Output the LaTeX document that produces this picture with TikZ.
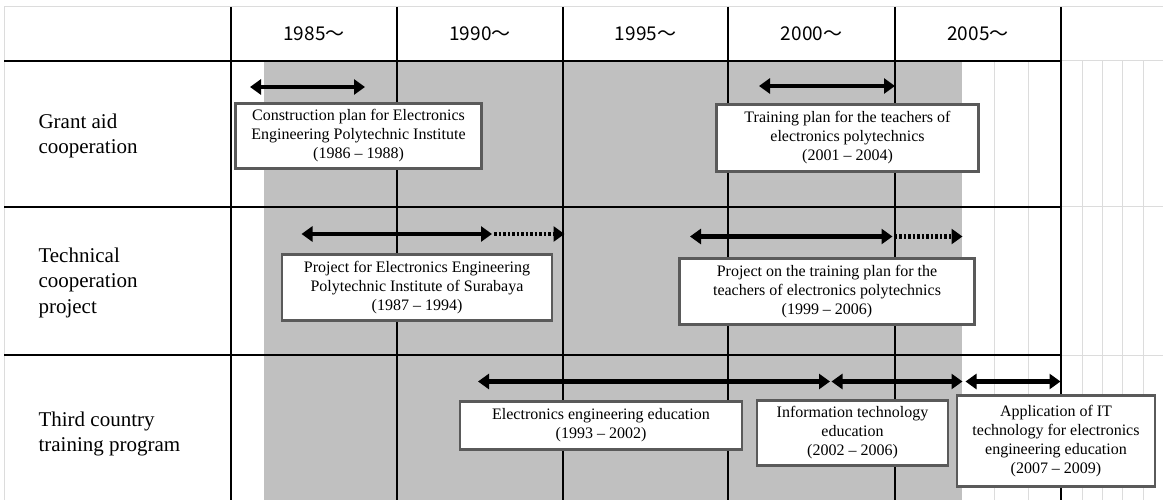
\documentclass[tikz,border=0pt]{standalone}
\usepackage{fontspec}
\setmainfont{Liberation Serif}
\newfontfamily\hdrfont{Noto Sans CJK JP}
\usetikzlibrary{arrows.meta}
\definecolor{periodgray}{HTML}{C0C0C0}
\definecolor{faint}{HTML}{DCDCDC}
\definecolor{boxline}{HTML}{5A5A5A}
\begin{document}
\begin{tikzpicture}[x=1pt,y=-1pt,
  grid/.style={line width=1.3pt,black},
  faintline/.style={line width=1pt,faint},
  span/.style={line width=4.5pt,{Triangle[width=15pt,length=11pt]}-{Triangle[width=15pt,length=11pt]}},
  ext/.style={line width=4.5pt,dash pattern=on 2.5pt off 2pt,-{Triangle[width=15pt,length=11pt]}},
  box/.style={draw=boxline,line width=2.8pt,fill=white,align=center,font=\fontsize{16}{19}\selectfont,inner sep=2pt},
  rowlabel/.style={anchor=west,align=left,font=\fontsize{21}{25.5}\selectfont},
  yearlabel/.style={font=\hdrfont\fontsize{19}{22}\selectfont}]
\useasboundingbox (0,0) rectangle (1163,500);
\fill[white] (0,0) rectangle (1163,500);
% shaded period
\fill[periodgray] (264,61) rectangle (962,500);
% faint grid
\draw[faintline] (4,7) -- (1163,7);
\draw[faintline] (4,7) -- (4,500);
\foreach \x in {994,1028,1082,1102,1122,1143}
  \draw[faintline] (\x,61) -- (\x,500);
\foreach \y in {61,207,355}
  \draw[faintline] (1061,\y) -- (1163,\y);
% black grid
\foreach \x in {231,397,563,728,895,1061}
  \draw[grid] (\x,7) -- (\x,500);
\foreach \y in {61,207,355}
  \draw[grid] (4,\y) -- (1061,\y);
% headers
\node[yearlabel] (y1985) at (314,34) {1985～};
\node[yearlabel] (y1990) at (480,34) {1990～};
\node[yearlabel] (y1995) at (645.5,34) {1995～};
\node[yearlabel] (y2000) at (811.5,34) {2000～};
\node[yearlabel] (y2005) at (978,34) {2005～};
% row labels
\node[rowlabel] (grant) at (35,136) {Grant aid\\cooperation};
\node[rowlabel] (tech) at (35,282.5) {Technical\\cooperation\\project};
\node[rowlabel] (third) at (35,434) {Third country\\training program};
% row 1 spans
\draw[span] (250,87) -- (365,87);
\draw[span] (759,86) -- (895,86);
% row 2 spans
\draw[span] (301.5,234) -- (492,234);
\draw[ext] (494,234) -- (564.5,234);
\draw[span] (690,236.5) -- (892.5,236.5);
\draw[ext] (894.5,236.5) -- (962.5,236.5);
% row 3 spans
\draw[span] (478,381.5) -- (830,381.5);
\draw[span] (831.5,381.5) -- (962.5,381.5);
\draw[span] (965.5,381.5) -- (1060.5,381.5);
% boxes
\node[box,minimum width=246pt,minimum height=65pt] (b1) at (358.5,136)
  {Construction plan for Electronics\\Engineering Polytechnic Institute\\(1986 – 1988)};
\node[box,minimum width=262pt,minimum height=67pt] (b2) at (847.5,138)
  {Training plan for the teachers of\\electronics polytechnics\\(2001 – 2004)};
\node[box,minimum width=270pt,minimum height=66pt] (b3) at (417,287.5)
  {Project for Electronics Engineering\\Polytechnic Institute of Surabaya\\(1987 – 1994)};
\node[box,minimum width=295pt,minimum height=66pt] (b4) at (827,291.5)
  {Project on the training plan for the\\teachers of electronics polytechnics\\(1999 – 2006)};
\node[box,minimum width=282pt,minimum height=48pt] (b5) at (601,425.5)
  {Electronics engineering education\\(1993 – 2002)};
\node[box,minimum width=191pt,minimum height=65pt] (b6) at (852.5,433)
  {Information technology\\education\\(2002 – 2006)};
\node[box,minimum width=198pt,minimum height=91pt] (b7) at (1056,441)
  {Application of IT\\technology for electronics\\engineering education\\(2007 – 2009)};
\end{tikzpicture}
\end{document}
